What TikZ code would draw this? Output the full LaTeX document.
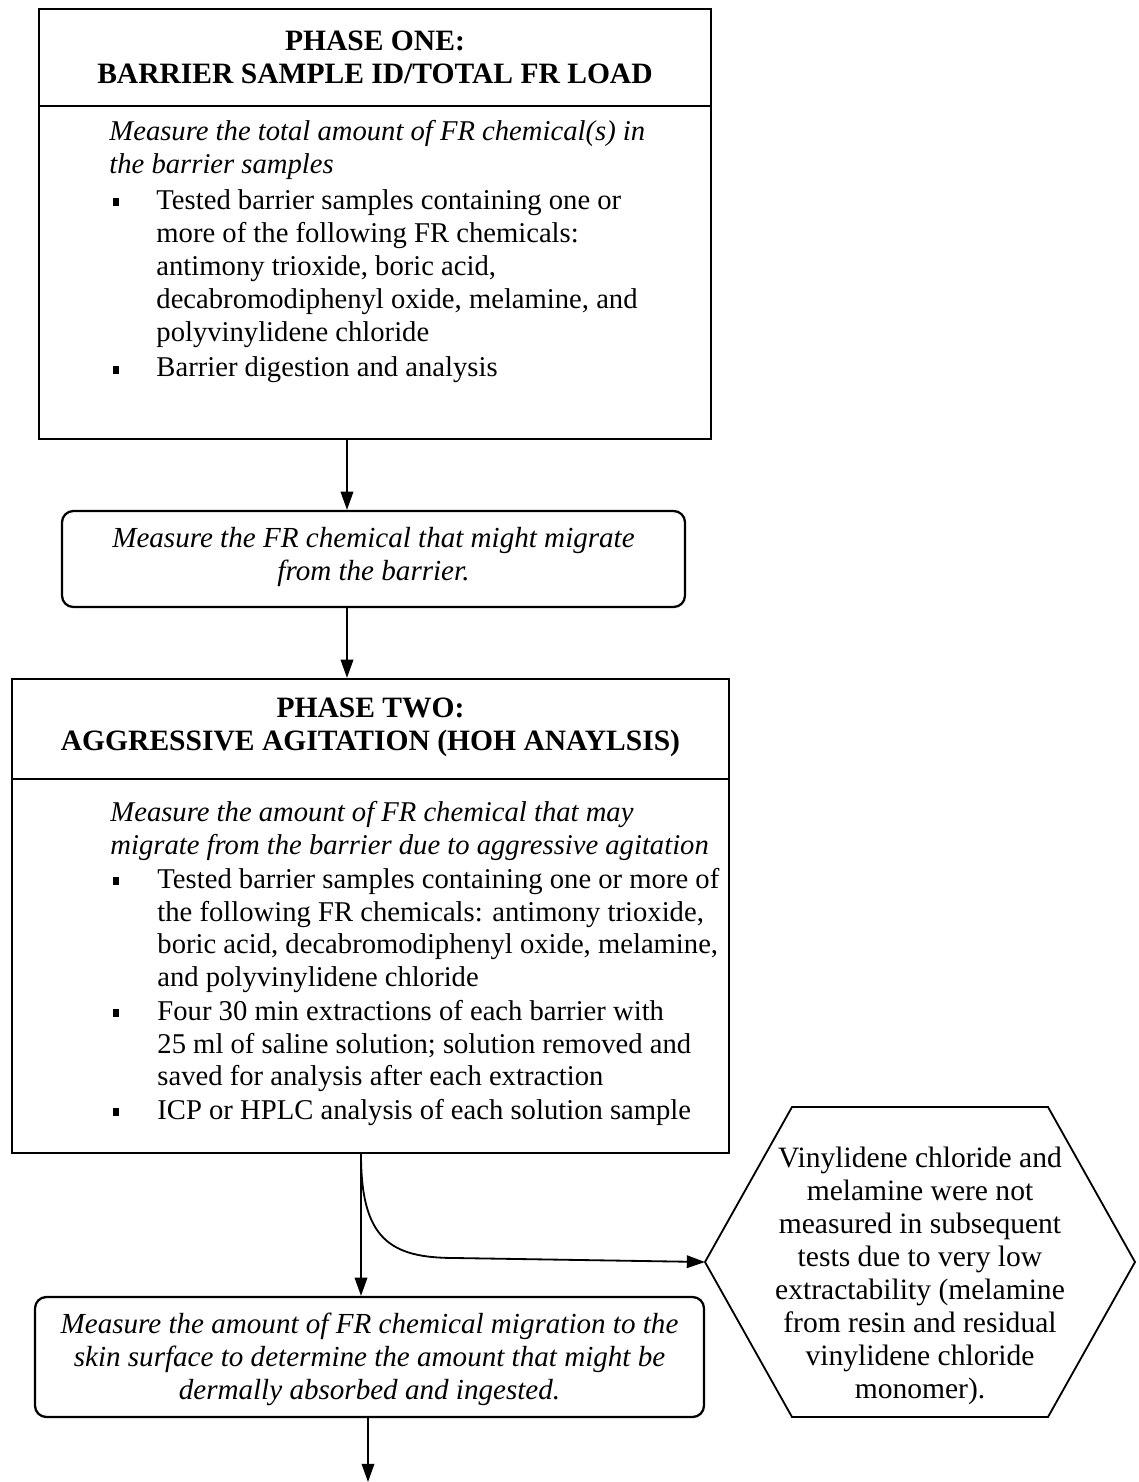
\documentclass[tikz,border=0pt]{standalone}
\usepackage{fontspec}
\setmainfont{Liberation Serif}
\usetikzlibrary{arrows.meta}
\begin{document}
\begin{tikzpicture}[x=0.44pt,y=-0.44pt,
  box/.style={draw,line width=1pt,inner sep=0pt},
  rbox/.style={box,rounded corners=5pt},
  txt/.style={inner sep=0pt,align=left,anchor=west,font=\fontsize{12.6}{14.5}\selectfont},
  itxt/.style={txt,font=\fontsize{12.6}{14.5}\selectfont\itshape},
  ctxt/.style={inner sep=0pt,align=center,font=\fontsize{12.8}{14.5}\selectfont},
  ictxt/.style={ctxt,font=\fontsize{12.8}{14.5}\selectfont\itshape},
  head/.style={ctxt,font=\fontsize{13}{14.5}\selectfont\bfseries},
  bul/.style={fill,inner sep=0pt,minimum width=3pt,minimum height=3.6pt},
  arr/.style={line width=0.8pt,-{Triangle[length=8pt,width=5.5pt]}}]
\useasboundingbox (0,0) rectangle (1139,1482);

% column coordinates
\coordinate (c1) at (347,0);
\coordinate (c3) at (361,0);
\coordinate (c4) at (368,0);
\coordinate (sep1) at (0,106);
\coordinate (sep2) at (0,779);

% Phase one box
\node[box,minimum width=295.68pt,minimum height=189.2pt] (p1) at (375,224) {};
\draw[line width=1pt] (p1.west |- sep1) -- (p1.east |- sep1);
\node[head] (h1) at (375,57) {PHASE ONE:\\BARRIER SAMPLE ID/TOTAL FR LOAD};
\node[itxt] (t1) at (109,150) {Measure the total amount of FR chemical(s) in\\the barrier samples};
\node[bul] (b11) at (116,202) {};
\node[txt] (t11) at (156,268.5) {Tested barrier samples containing one or\\more of the following FR chemicals:\\antimony trioxide, boric acid,\\decabromodiphenyl oxide, melamine, and\\polyvinylidene chloride};
\node[bul] (b12) at (116,370) {};
\node[txt] (t12) at (156,370) {Barrier digestion and analysis};

% Measure box 1
\node[rbox,minimum width=274.12pt,minimum height=42.24pt] (m1) at (373.5,559) {};
\node[ictxt] (mt1) at (373.5,557) {Measure the FR chemical that might migrate\\from the barrier.};

% Phase two box
\node[box,minimum width=315.48pt,minimum height=208.56pt] (p2) at (370.5,916) {};
\draw[line width=1pt] (p2.west |- sep2) -- (p2.east |- sep2);
\node[head] (h2) at (370.5,727) {PHASE TWO:\\AGGRESSIVE AGITATION (HOH ANAYLSIS)};
\node[itxt] (t2) at (110,831) {Measure the amount of FR chemical that may\\migrate from the barrier due to aggressive agitation};
\node[bul] (b21) at (116,881) {};
\node[txt] (t21) at (157,930.5) {Tested barrier samples containing one or more of\\the following FR chemicals: antimony trioxide,\\boric acid, decabromodiphenyl oxide, melamine,\\and polyvinylidene chloride};
\node[bul] (b22) at (116,1013) {};
\node[txt] (t22) at (157,1046) {Four 30 min extractions of each barrier with\\25 ml of saline solution; solution removed and\\saved for analysis after each extraction};
\node[bul] (b23) at (116,1112) {};
\node[txt] (t23) at (157,1112) {ICP or HPLC analysis of each solution sample};

% Measure box 2
\node[rbox,minimum width=294.36pt,minimum height=52.8pt] (m2) at (369.5,1357) {};
\node[ictxt] (mt2) at (369.5,1359) {Measure the amount of FR chemical migration to the\\skin surface to determine the amount that might be\\dermally absorbed and ingested.};

% Hexagon
\draw[line width=0.8pt] (705,1262) -- (792,1107) -- (1048,1107) -- (1135,1262) -- (1048,1417) -- (792,1417) -- cycle;
\coordinate (hexW) at (705,1262);
\node[ctxt,font=\fontsize{13}{14.5}\selectfont] (hx) at (920,1276) {Vinylidene chloride and\\melamine were not\\measured in subsequent\\tests due to very low\\extractability (melamine\\from resin and residual\\vinylidene chloride\\monomer).};

% connectors
\coordinate (cv) at (455,1258);
\coordinate (endpt) at (368,1482);
\draw[arr] (p1.south -| c1) -- (m1.north -| c1);
\draw[arr] (m1.south -| c1) -- (p2.north -| c1);
\draw[arr] (p2.south -| c3) -- (m2.north -| c3);
\draw[arr] (p2.south -| c3) .. controls +(0,85) and +(-65,0) .. (cv) -- (hexW);
\draw[arr] (m2.south -| c4) -- (endpt);
\end{tikzpicture}
\end{document}
